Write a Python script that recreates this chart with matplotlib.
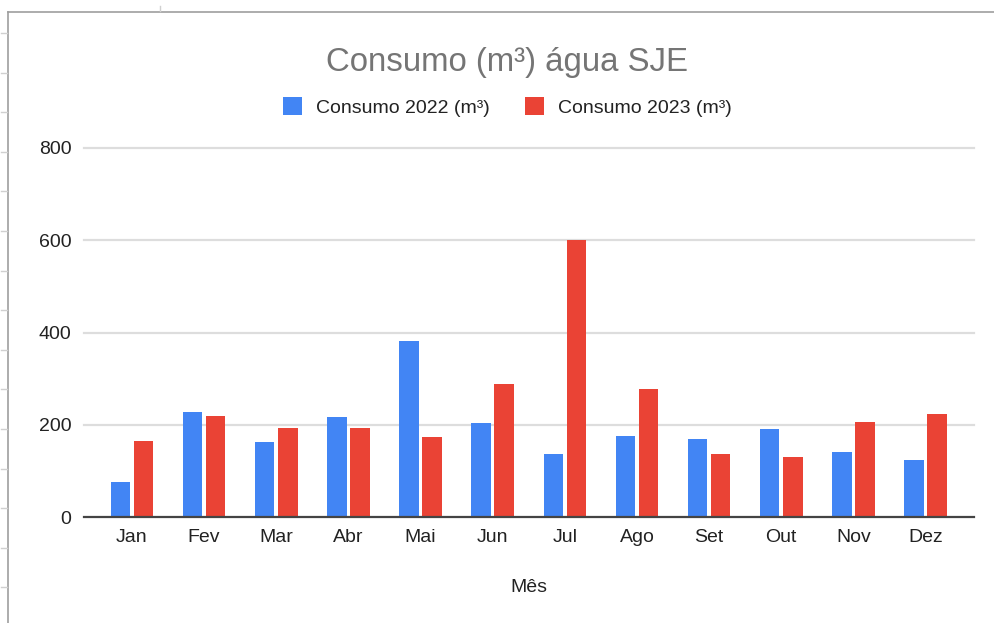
import matplotlib
matplotlib.use("Agg")
import numpy as np
from matplotlib import pyplot as plt
from matplotlib.lines import Line2D
from matplotlib.patches import Patch

plt.rcParams['font.family'] = ['Liberation Sans', 'DejaVu Sans']

##############################################
# Data
#

meses = ["Jan", "Fev", "Mar", "Abr", "Mai", "Jun",
         "Jul", "Ago", "Set", "Out", "Nov", "Dez"]
consumo_2022 = [76, 227, 162, 216, 381, 204, 137, 176, 170, 191, 141, 123]
consumo_2023 = [165, 220, 194, 194, 173, 288, 600, 278, 137, 130, 206, 224]
y_ticks = [0, 200, 400, 600, 800]

AZUL = "#4285F4"
VERMELHO = "#EA4335"

##############################################
# Figure
#

W, H = 994, 623
fig = plt.figure(figsize=(W / 100, H / 100), dpi=100)

# plot area, in pixels of the reference
x0, x1, y_top, y_base = 84, 974, 148, 517
ax = fig.add_axes([x0 / W, 1 - y_base / H, (x1 - x0) / W, (y_base - y_top) / H])

x = np.arange(len(meses))
larg = 0.27
desl = 0.16
ax.bar(x - desl, consumo_2022, larg, color=AZUL, zorder=3)
ax.bar(x + desl, consumo_2023, larg, color=VERMELHO, zorder=3)

ax.set_xlim(-0.665, 11.672)
ax.set_ylim(0, 800)
ax.set_yticks(y_ticks)
ax.set_xticks(x)
ax.set_xticklabels(meses)

for s in ax.spines.values():
    s.set_visible(False)
for v in y_ticks[1:]:
    ax.axhline(v, color="#dddddd", lw=1.6, zorder=1, clip_on=False)
ax.axhline(0, color="#444444", lw=1.6, zorder=4, clip_on=False)

ax.tick_params(axis="both", length=0, labelsize=14, colors="#222222")
ax.tick_params(axis="y", pad=9)
ax.tick_params(axis="x", pad=9)

fig.text(529 / W, 1 - 588 / H, "Mês", ha="center", va="center",
         fontsize=14, color="#222222")

fig.text(507 / W, 1 - 62 / H, "Consumo (m³) água SJE", ha="center",
         va="center", fontsize=23.8, color="#757575")

handles = [Patch(facecolor=AZUL, edgecolor="none"),
           Patch(facecolor=VERMELHO, edgecolor="none")]
fig.legend(handles, ["Consumo 2022 (m³)", "Consumo 2023 (m³)"],
           loc="center", bbox_to_anchor=(507 / W, 1 - 107 / H), ncol=2,
           frameon=False, fontsize=14, handlelength=1.0, handleheight=1.0,
           handletextpad=0.7, columnspacing=1.8, labelcolor="#222222")

# spreadsheet frame behind the chart
fig.add_artist(Line2D([8 / W, 8 / W], [0, 1 - 12 / H], color="#9e9e9e", lw=1.2))
fig.add_artist(Line2D([8 / W, 1], [1 - 12 / H, 1 - 12 / H], color="#9e9e9e", lw=1.2))
for py in np.arange(33, H, 39.6):
    fig.add_artist(Line2D([1 / W, 7 / W], [1 - py / H, 1 - py / H],
                          color="#d0d0d0", lw=1.0))
fig.add_artist(Line2D([160 / W, 160 / W], [1 - 6 / H, 1 - 11 / H],
                      color="#d0d0d0", lw=1.0))

fig.savefig("out.png", dpi=100)
